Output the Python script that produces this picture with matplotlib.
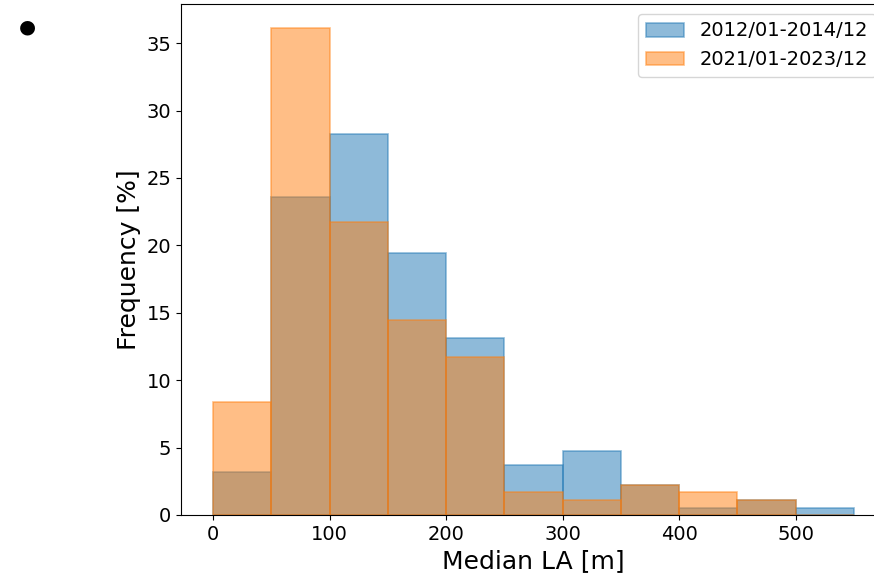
import matplotlib.pyplot as plt
import numpy as np

# Bin edges of Median LA [m]
bin_left = [0, 50, 100, 150, 200, 250, 300, 350, 400, 450, 500]
bin_width = 50

# Frequency [%] per bin
freq_2012 = [3.2, 23.6, 28.25, 19.4, 13.1, 3.7, 4.74, 2.2, 0.54, 1.1, 0.54]
freq_2021 = [8.37, 36.1, 21.7, 14.45, 11.7, 1.73, 1.14, 2.2, 1.7, 1.1, 0.0]

labels = ["2012/01-2014/12", "2021/01-2023/12"]

fig = plt.figure(figsize=(8.74, 5.75), dpi=100)
ax = fig.add_axes([181 / 874, 60 / 575, 705 / 874, 511 / 575])

ax.bar(bin_left, freq_2012, width=bin_width, align='edge', color='C0',
       edgecolor='C0', alpha=0.5, linewidth=1.2, label=labels[0])
ax.bar(bin_left, freq_2021, width=bin_width, align='edge', color='C1',
       edgecolor='C1', alpha=0.5, linewidth=1.2, label=labels[1])

ax.set_xlabel("Median LA [m]", fontsize=18)
ax.set_ylabel("Frequency [%]", fontsize=18)
ax.tick_params(labelsize=14)
ax.set_yticks(np.arange(0, 36, 5))
ax.legend(loc='upper right', fontsize=14)

# bullet marker in the corner
fig.text(27 / 874, 1 - 27 / 575, "●", fontsize=14, ha='center', va='center')

fig.savefig("out.png", dpi=100)
